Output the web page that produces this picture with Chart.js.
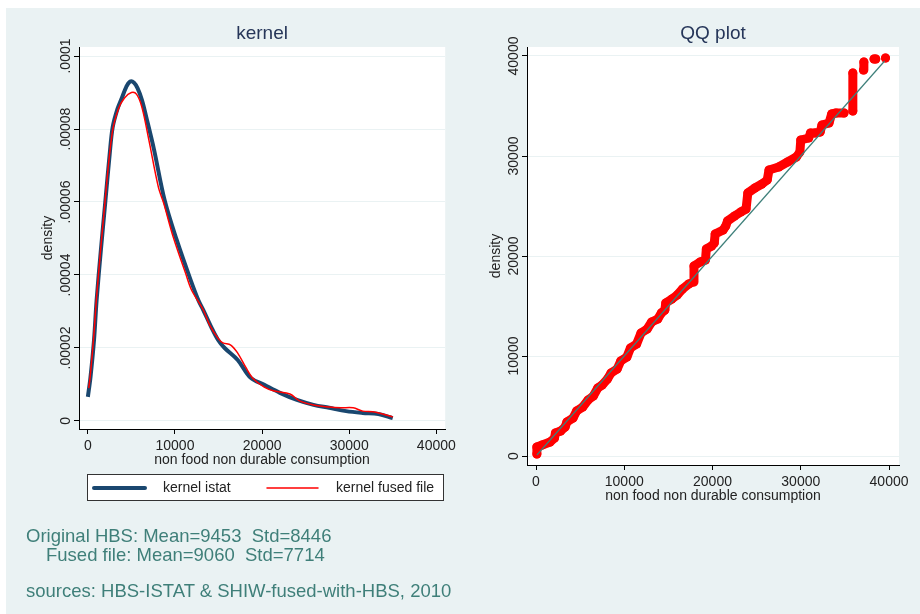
<!DOCTYPE html>
<html>
<head>
<meta charset="utf-8">
<script src="https://cdn.jsdelivr.net/npm/chart.js@4"></script>
<style>
body { margin: 0; background: #fff; font-family: 'Liberation Sans', Arial, sans-serif; }
#bg { position: absolute; left: 6px; top: 8px; width: 914px; height: 606px; background: #EAF2F3; }
canvas { position: absolute; top: 0; }
#kernel { left: 0; }
#qq { left: 460px; }
.note { position: absolute; font-size: 18.5px; line-height: 18.5px; color: #3F7F79; white-space: pre; }
</style>
</head>
<body>
<div id="bg"></div>
<canvas id="kernel" width="460" height="614"></canvas>
<canvas id="qq" width="460" height="614"></canvas>
<div class="note" style="left:26px; top:527px">Original HBS: Mean=9453  Std=8446</div>
<div class="note" style="left:46px; top:546px">Fused file: Mean=9060  Std=7714</div>
<div class="note" style="left:26px; top:582px">sources: HBS-ISTAT &amp; SHIW-fused-with-HBS, 2010</div>
<script>
// TICKS
const consTicks = [0, 10000, 20000, 30000, 40000];
const densTicks = [0, 0.00002, 0.00004, 0.00006, 0.00008, 0.0001];

// KERNEL DATA
const seriesNames = ['kernel istat', 'kernel fused file'];
const istatX = [0, 300, 700, 1000, 1500, 2000, 2500, 2850, 3400, 3900, 4400, 4850, 5300, 5700, 6200, 6700, 7600, 8800, 10200, 11800, 12700, 13250, 14150, 14950, 15700, 17200, 18700, 20250, 22050, 24000, 25900, 27700, 29650, 31550, 33350, 35000];
const istatY = [6.6e-6, 1.2e-5, 2.2e-5, 3.3e-5, 4.7e-5, 6.0e-5, 7.3e-5, 8.05e-5, 8.55e-5, 8.85e-5, 9.15e-5, 9.3e-5, 9.27e-5, 9.12e-5, 8.8e-5, 8.33e-5, 7.43e-5, 6.06e-5, 4.96e-5, 3.86e-5, 3.3e-5, 3.04e-5, 2.58e-5, 2.22e-5, 2.0e-5, 1.67e-5, 1.18e-5, 9.9e-6, 7.7e-6, 5.75e-6, 4.4e-6, 3.6e-6, 2.7e-6, 2.2e-6, 1.9e-6, 0.8e-6];
const fusedX = [100, 300, 700, 1000, 2000, 2800, 3500, 4200, 5000, 5600, 6200, 7000, 8100, 8700, 9800, 11200, 11900, 13250, 14000, 14930, 15500, 16400, 17200, 18100, 18900, 20250, 21400, 23200, 24300, 25900, 27700, 29050, 30450, 31550, 32700, 33400, 35000];
const fusedY = [9e-6, 1.3e-5, 2.4e-5, 3.4e-5, 6.1e-5, 7.9e-5, 8.55e-5, 8.85e-5, 9.0e-5, 8.95e-5, 8.6e-5, 7.7e-5, 6.4e-5, 5.97e-5, 5.04e-5, 4.06e-5, 3.59e-5, 3.04e-5, 2.62e-5, 2.27e-5, 2.14e-5, 2.08e-5, 1.86e-5, 1.48e-5, 1.18e-5, 9.3e-6, 8.2e-6, 7.4e-6, 5.5e-6, 4.4e-6, 3.8e-6, 3.6e-6, 3.6e-6, 2.7e-6, 2.5e-6, 2.2e-6, 1.1e-6];

// QQ DATA (null = break in the staircase)
const qqX = [100, 100, 700, 1600, 2100, 2200, 2800, 3300, 3500, 4200, 4600, 5300, 5900, 6500, 7000, 7500, 8100, 8500, 9200, 9600, 10300, 10700, 11400, 11900, 12600, 13100, 13800, 14200, 14600, 14700, 15400, 16000, 16600, 17300, 17800, 17900, 18600, 19200, 19300, 19900, 20200, 20300, 21200, 21500, 21700, 22500, 23200, 23800, 24000, 24800, 25600, 26200, 26400, 27500, 28500, 29500, 29900, 30000, 30900, 31100, 31600, 32200, 32400, 33200, 33500, 34000, 34900, 35400, 35900, 35900, 36500, 37100, 37150, 37700, 38300, 38500, 39000, 39600];
const qqY = [200, 900, 1100, 1400, 1800, 2300, 2500, 2900, 3400, 3800, 4500, 4900, 5600, 6000, 6800, 7100, 7700, 8300, 8700, 9500, 9900, 10800, 11200, 12300, 12700, 13400, 13700, 14300, 14600, 15300, 15700, 16100, 16700, 17200, 17400, 19000, 19400, 19600, 20700, 21000, 21300, 22200, 22600, 23000, 23500, 24000, 24400, 24700, 26300, 26800, 27200, 27600, 28600, 28900, 29400, 29900, 30400, 31600, 31800, 32300, 32300, 32400, 33100, 33300, 34200, 34300, 34300, null, 34500, 38300, null, 38600, 39400, null, 39700, 39700, null, 39800];
const refX = [100, 39500];
const refY = [100, 39500];

const kernel = document.getElementById('kernel');
const qq = document.getElementById('qq');

Chart.defaults.font.family = "'Liberation Sans', Arial, sans-serif";
Chart.defaults.color = '#222';

// white plot region, title, rotated y labels, legend
const stata = {
  id: 'stata',
  beforeDraw(chart) {
    const {ctx, chartArea: a} = chart;
    ctx.save();
    ctx.fillStyle = '#fff';
    ctx.fillRect(a.left, a.top, a.right - a.left, a.bottom - a.top);
    ctx.restore();
  },
  afterDraw(chart, args, opts) {
    const {ctx, chartArea: a} = chart;
    const y = chart.scales.y;
    ctx.save();
    ctx.fillStyle = '#263659';
    ctx.font = '19px "Liberation Sans", Arial';
    ctx.textAlign = 'center';
    ctx.textBaseline = 'middle';
    ctx.fillText(opts.title, (a.left + a.right) / 2, 34);

    ctx.fillStyle = '#222';
    ctx.font = '14px "Liberation Sans", Arial';
    ctx.textBaseline = 'alphabetic';
    y.ticks.forEach(t => {
      ctx.save();
      ctx.translate(a.left - 9, y.getPixelForValue(t.value));
      ctx.rotate(-Math.PI / 2);
      ctx.fillText(t.label, 0, 0);
      ctx.restore();
    });

    if (opts.legend) {
      ctx.fillStyle = '#fff';
      ctx.fillRect(87.5, 474.5, 356, 26);
      ctx.strokeStyle = '#333';
      ctx.lineWidth = 1;
      ctx.strokeRect(87.5, 474.5, 356, 26);
      const slots = [92, 265];
      chart.data.datasets.forEach((d, i) => {
        const x0 = slots[i];
        ctx.strokeStyle = d.borderColor;
        ctx.lineWidth = d.borderWidth;
        ctx.lineCap = 'round';
        ctx.beginPath();
        ctx.moveTo(x0 + 2, 488);
        ctx.lineTo(x0 + 53, 488);
        ctx.stroke();
        ctx.fillStyle = '#222';
        ctx.textAlign = 'left';
        ctx.textBaseline = 'middle';
        ctx.fillText(d.label, x0 + 71, 488);
      });
    }
    ctx.restore();
  }
};

function axes(xMin, xMax, yMin, yMax, yTicks, yWidth, yTitlePad, yFmt) {
  return {
    x: {
      type: 'linear', min: xMin, max: xMax,
      afterFit: s => { s.height = 40; },
      afterBuildTicks: s => { s.ticks = consTicks.map(v => ({value: v})); },
      ticks: { maxRotation: 0, autoSkip: false, padding: 4, font: { size: 14 }, color: '#222', callback: v => String(v) },
      grid: { drawOnChartArea: false, tickLength: 5, tickColor: '#000' },
      border: { color: '#000', width: 1 },
      title: { display: true, text: 'non food non durable consumption', font: { size: 14 }, color: '#222', padding: 0 }
    },
    y: {
      type: 'linear', min: yMin, max: yMax,
      afterFit: s => { s.width = yWidth; },
      afterBuildTicks: s => { s.ticks = yTicks.map(v => ({value: v})); },
      ticks: { display: false, autoSkip: false, callback: yFmt },
      grid: { color: '#EAF2F3', tickLength: 5, tickColor: '#000' },
      border: { color: '#000', width: 1 },
      title: { display: true, text: 'density', font: { size: 14 }, color: '#222', padding: { top: yTitlePad, bottom: 0 } }
    }
  };
}

// KERNEL
new Chart(kernel, {
  type: 'scatter',
  data: {
    datasets: [{
      label: seriesNames[0],
      data: istatX.map((x, i) => ({x, y: istatY[i]})),
      showLine: true,
      borderColor: '#1A476F',
      borderWidth: 4,
      pointRadius: 0,
      tension: 0.35,
      order: 2,
    }, {
      label: seriesNames[1],
      data: fusedX.map((x, i) => ({x, y: fusedY[i]})),
      showLine: true,
      borderColor: '#FF0000',
      borderWidth: 1.5,
      pointRadius: 0,
      tension: 0.35,
      order: 1,
    }],
  },
  options: {
    responsive: false,
    animation: false,
    devicePixelRatio: 1,
    layout: { padding: { left: 0, top: 47, right: 9, bottom: 145 } },
    scales: axes(-1018, 41018, -2.2e-6, 1.0247e-4, densTicks, 79, 39.6,
      v => v === 0 ? '0' : String(parseFloat(v.toFixed(6))).replace(/^0/, '')),
    plugins: { legend: { display: false }, tooltip: { enabled: false }, stata: { title: 'kernel', legend: true } },
  },
  plugins: [stata],
});

// QQ PLOT
new Chart(qq, {
  type: 'scatter',
  data: {
    datasets: [{
      label: 'qq',
      data: qqX.map((x, i) => ({x, y: qqY[i]})),
      showLine: true,
      spanGaps: false,
      borderColor: '#FF0000',
      backgroundColor: '#FF0000',
      borderWidth: 9,
      borderJoinStyle: 'round',
      borderCapStyle: 'round',
      pointRadius: 4.5,
      pointBorderWidth: 0,
      order: 2,
    }, {
      label: 'ref',
      data: refX.map((x, i) => ({x, y: refY[i]})),
      showLine: true,
      borderColor: '#3E7F7A',
      borderWidth: 1.2,
      pointRadius: 0,
      order: 1,
    }],
  },
  options: {
    responsive: false,
    animation: false,
    devicePixelRatio: 1,
    layout: { padding: { left: 0, top: 47, right: 21, bottom: 109 } },
    scales: axes(-1020, 41130, -900, 40900, consTicks, 67, 27.6, v => String(v)),
    plugins: { legend: { display: false }, tooltip: { enabled: false }, stata: { title: 'QQ plot', legend: false } },
  },
  plugins: [stata],
});
</script>
</body>
</html>
